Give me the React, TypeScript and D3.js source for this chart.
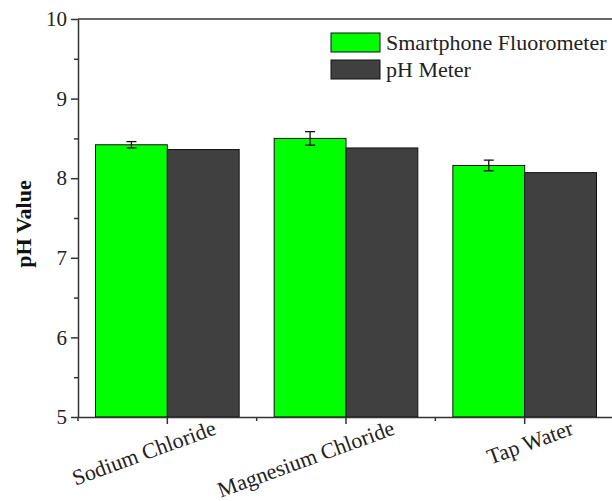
import React, { useEffect, useRef } from 'react';
import * as d3 from 'd3';

const categories = ['Sodium Chloride', 'Magnesium Chloride', 'Tap Water'];
const seriesNames = ['Smartphone Fluorometer', 'pH Meter'];
const fluorometer = [8.42, 8.5, 8.16];
const fluorometerErr = [0.04, 0.085, 0.067];
const phMeter = [8.36, 8.38, 8.07];
const yTicks = [5, 6, 7, 8, 9, 10];
const yMinorTicks = [5.5, 6.5, 7.5, 8.5, 9.5];

const colors = ['#00ff00', '#404040'];
const axisColor = '#333';
const font = 'Liberation Serif, Times New Roman, serif';

const App: React.FC = () => {
  const svgRef = useRef<SVGSVGElement>(null);

  useEffect(() => {
    if (!svgRef.current) return;
    const svg = d3.select(svgRef.current);
    svg.selectAll('*').remove();

    const width = 612;
    const height = 501;
    const margin = { top: 19, right: -2, bottom: 84, left: 78 };

    const xScale = d3.scaleBand()
      .domain(categories)
      .range([margin.left, width - margin.right])
      .paddingInner(0.196)
      .paddingOuter(0.098);

    const xSub = d3.scaleBand()
      .domain(seriesNames)
      .range([0, xScale.bandwidth()]);

    const yScale = d3.scaleLinear()
      .domain([5, 10])
      .range([height - margin.bottom, margin.top]);

    const g = svg.append('g');

    // Bars
    const values = [fluorometer, phMeter];
    seriesNames.forEach((name, si) => {
      g.selectAll(`.bar-${si}`)
        .data(categories)
        .enter()
        .append('rect')
        .attr('x', d => xScale(d)! + xSub(name)!)
        .attr('y', (d, i) => yScale(values[si][i]))
        .attr('width', xSub.bandwidth())
        .attr('height', (d, i) => yScale(5) - yScale(values[si][i]))
        .attr('fill', colors[si])
        .attr('stroke', '#111')
        .attr('stroke-width', 1);
    });

    // Error bars
    const errG = g.append('g').attr('stroke', '#111').attr('stroke-width', 1.3);
    categories.forEach((c, i) => {
      const cx = xScale(c)! + xSub(seriesNames[0])! + xSub.bandwidth() / 2;
      const y0 = yScale(fluorometer[i] - fluorometerErr[i]);
      const y1 = yScale(fluorometer[i] + fluorometerErr[i]);
      errG.append('line').attr('x1', cx).attr('x2', cx).attr('y1', y0).attr('y2', y1);
      errG.append('line').attr('x1', cx - 5).attr('x2', cx + 5).attr('y1', y0).attr('y2', y0);
      errG.append('line').attr('x1', cx - 5).attr('x2', cx + 5).attr('y1', y1).attr('y2', y1);
    });

    // Top frame line
    g.append('line')
      .attr('x1', margin.left)
      .attr('x2', width)
      .attr('y1', yScale(10))
      .attr('y2', yScale(10))
      .attr('stroke', axisColor)
      .attr('stroke-width', 1.5);

    // Y axis minor ticks
    g.append('g')
      .attr('transform', `translate(${margin.left},0)`)
      .call(d3.axisLeft(yScale).tickValues(yMinorTicks).tickSize(4).tickFormat(() => ''))
      .call(g => g.select('.domain').remove())
      .call(g => g.selectAll('.tick line').attr('stroke', axisColor).attr('stroke-width', 1.5));

    // Y axis
    g.append('g')
      .attr('transform', `translate(${margin.left},0)`)
      .call(d3.axisLeft(yScale).tickValues(yTicks).tickFormat(d3.format('d') as any)
        .tickSize(7).tickSizeOuter(0).tickPadding(4))
      .attr('font-family', font)
      .call(g => g.select('.domain').attr('stroke', axisColor).attr('stroke-width', 1.5))
      .call(g => g.selectAll('.tick line').attr('stroke', axisColor).attr('stroke-width', 1.5))
      .call(g => g.selectAll('.tick text')
        .attr('fill', '#222')
        .attr('font-family', font)
        .attr('font-size', '21px'));

    // X axis minor ticks at band boundaries
    const boundaries = categories.map(c => xScale(c)! - xScale.step() * xScale.paddingInner() / 2);
    boundaries.push(width - margin.right);
    g.append('g')
      .attr('stroke', axisColor)
      .attr('stroke-width', 1.5)
      .selectAll('line')
      .data(boundaries)
      .enter()
      .append('line')
      .attr('x1', d => d)
      .attr('x2', d => d)
      .attr('y1', yScale(5))
      .attr('y2', yScale(5) + 4);

    // X axis
    g.append('g')
      .attr('transform', `translate(0,${yScale(5)})`)
      .call(d3.axisBottom(xScale).tickSize(7).tickSizeOuter(0))
      .attr('font-family', font)
      .call(g => g.select('.domain').attr('stroke', axisColor).attr('stroke-width', 1.5))
      .call(g => g.selectAll('.tick line').attr('stroke', axisColor).attr('stroke-width', 1.5))
      .call(g => g.selectAll('.tick text')
        .attr('fill', '#222')
        .attr('font-family', font)
        .attr('font-size', '22px')
        .attr('text-anchor', 'end')
        .attr('dy', 0)
        .attr('y', 0)
        .attr('transform', 'translate(50,17) rotate(-20)'));

    // Y label
    g.append('text')
      .attr('transform', `translate(31,${(yScale(5) + yScale(10)) / 2 + 6}) rotate(-90)`)
      .attr('text-anchor', 'middle')
      .attr('font-family', font)
      .attr('font-size', '22px')
      .attr('font-weight', 'bold')
      .attr('fill', '#111')
      .text('pH Value');

    // Legend
    const legend = g.append('g').attr('transform', 'translate(331,33)');
    seriesNames.forEach((name, i) => {
      const row = legend.append('g').attr('transform', `translate(0,${i * 27})`);
      row.append('rect')
        .attr('width', 49)
        .attr('height', 19)
        .attr('fill', colors[i])
        .attr('stroke', '#111')
        .attr('stroke-width', 1);
      row.append('text')
        .attr('x', 55)
        .attr('y', 17)
        .attr('font-family', font)
        .attr('font-size', '22px')
        .attr('fill', '#222')
        .text(name);
    });
  }, []);

  return (
    <svg
      ref={svgRef}
      width={612}
      height={501}
      style={{ display: 'block', position: 'absolute', left: 0, top: 0, background: '#fff' }}
    />
  );
};

export default App;
